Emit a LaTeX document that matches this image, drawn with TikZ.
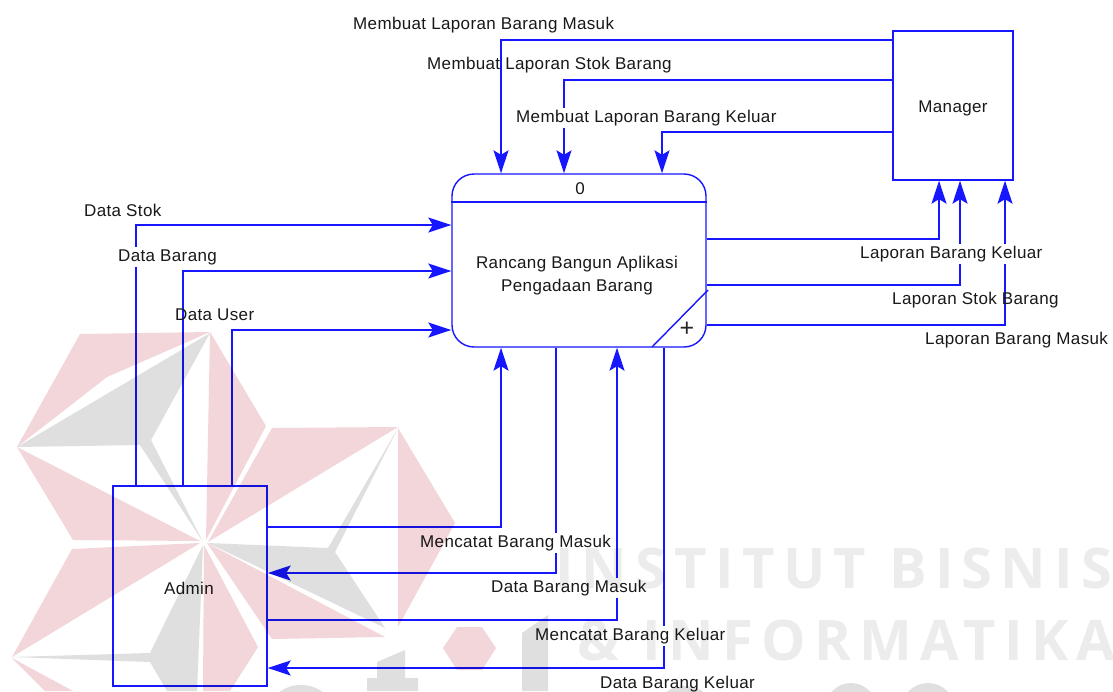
\documentclass[tikz,border=0pt]{standalone}
\usepackage{fontspec}
\setmainfont{Liberation Sans}[LetterSpace=2.1]
\newfontfamily\wmfont{Open Sans}[LetterSpace=14.8]
\usetikzlibrary{arrows.meta,calc}
\definecolor{flowblue}{RGB}{22,22,255}
\definecolor{wmred}{RGB}{243,214,217}
\definecolor{wmgray}{RGB}{223,223,223}
\definecolor{wmtext}{RGB}{236,236,236}
\tikzset{
  boxnode/.style={draw=flowblue,line width=1.4pt,minimum width=#1,inner sep=0pt},
  flow/.style={draw=flowblue,line width=1.4pt,-{Stealth[length=23pt,width=15pt,inset=4.5pt]}},
  lbl/.style={font=\fontsize{17}{19}\selectfont,text=black!90,inner sep=0pt,anchor=west},
  lblmask/.style={lbl,fill=white,inner ysep=2pt},
  redp/.style={fill=wmred,draw=none},
  grayp/.style={fill=wmgray,draw=none},
  wmt/.style={font=\wmfont\bfseries\fontsize{56}{60}\selectfont,text=wmtext,inner sep=0pt,anchor=base west}
}
\begin{document}
\begin{tikzpicture}[x=1pt,y=-1pt]
\useasboundingbox (0,0) rectangle (1113,691);
\fill[white] (0,0) rectangle (1113,691);
% entities
\node[boxnode=120pt,minimum height=149pt] (manager) at (953,105.5) {};
\node[boxnode=154pt,minimum height=200pt] (admin) at (190,586) {};
\node[boxnode=254pt,minimum height=173pt,rounded corners=22pt] (proc) at (579,260.5) {};
\coordinate (divL) at (proc.west |- 0,202);
\coordinate (divR) at (proc.east |- 0,202);
\draw[flowblue,line width=1.4pt] (divL) -- (divR);
\coordinate (slashA) at (652,347);
\coordinate (slashB) at (708,290);
\draw[flowblue,line width=1.4pt] (slashA) -- (slashB);
\node[inner sep=0pt,font=\fontsize{25}{25}\selectfont,text=black!85] (plus) at (687,329) {+};
% flows
\draw[flow] (manager.west |- 0,40) -| (proc.north -| 501,0);
\draw[flow] (manager.west |- 0,80) -| (proc.north -| 564,0);
\draw[flow] (manager.west |- 0,132) -| (proc.north -| 662,0);
\draw[flow] (proc.east |- 0,239) -| (manager.south -| 939,0);
\draw[flow] (proc.east |- 0,285) -| (manager.south -| 960,0);
\draw[flow] (proc.east |- 0,325) -| (manager.south -| 1005,0);
\draw[flow] (admin.north -| 136,0) |- (proc.west |- 0,225);
\draw[flow] (admin.north -| 183,0) |- (proc.west |- 0,271);
\draw[flow] (admin.north -| 232,0) |- (proc.west |- 0,330);
\draw[flow] (admin.east |- 0,527) -| (proc.south -| 501,0);
\draw[flow] (proc.south -| 556,0) |- (admin.east |- 0,573);
\draw[flow] (admin.east |- 0,620) -| (proc.south -| 617,0);
\draw[flow] (proc.south -| 664,0) |- (admin.east |- 0,668);
% labels
\node[lbl,anchor=center] (t0) at (580,189) {0};
\node[lbl,anchor=center] (t1) at (577,264) {Rancang Bangun Aplikasi};
\node[lbl,anchor=center] (t2) at (577,287) {Pengadaan Barang};
\node[lbl,anchor=center] (t3) at (953,108) {Manager};
\node[lbl,anchor=center] (t4) at (189,588) {Admin};
\node[lbl] (l1) at (353,25) {Membuat Laporan Barang Masuk};
\node[lbl] (l2) at (427,65) {Membuat Laporan Stok Barang};
\node[lblmask] (l3) at (516,118) {Membuat Laporan Barang Keluar};
\node[lbl] (l4) at (84,210) {Data Stok};
\node[lblmask] (l5) at (118,257) {Data Barang};
\node[lbl] (l6) at (175,315) {Data User};
\node[lblmask] (l7) at (860,254) {Laporan Barang Keluar};
\node[lbl] (l8) at (892,300) {Laporan Stok Barang};
\node[lbl] (l9) at (925,340) {Laporan Barang Masuk};
\node[lblmask] (l10) at (420,543) {Mencatat Barang Masuk};
\node[lblmask] (l11) at (491,588) {Data Barang Masuk};
\node[lblmask] (l12) at (535,636) {Mencatat Barang Keluar};
\node[lbl] (l13) at (600,684) {Data Barang Keluar};
% watermark
\begin{scope}[blend mode=multiply]
\clip (0,0) rectangle (1113,691);
\fill[redp] (80,334)--(210,332)--(107,377)--(17,447)--cycle;
\fill[grayp] (210,333)--(17,447)--(140,445)--(203,542)--(151,440)--cycle;
\fill[redp] (210,332)--(266,426)--(206,540)--cycle;
\fill[redp] (17,447)--(73,540)--(200,541)--cycle;
\fill[redp] (272,428)--(398,427)--(208,542)--cycle;
\fill[grayp] (398,428)--(335,552)--(385,628)--(208,543)--(328,548)--cycle;
\fill[redp] (398,428)--(455,523)--(398,627)--cycle;
\fill[redp] (207,543)--(385,637)--(272,639)--cycle;
\fill[redp] (200,543)--(72,549)--(12,657)--cycle;
\fill[grayp] (12,657)--(150,653)--(203,545)--(197,691)--(167,691)--(150,662)--cycle;
\fill[redp] (12,658)--(73,691)--(45,691)--cycle;
\fill[redp] (204,545)--(258,647)--(230,691)--(203,691)--cycle;
\fill[redp] (457,627)--(482,627)--(496,648)--(482,670)--(457,670)--(443,648)--cycle;
\fill[wmgray] (377,662)--(405,650)--(405,678)--(418,678)--(418,691)--(367,691)--(367,678)--(377,678)--cycle;
\fill[wmgray] (522,633)--(548,615)--(548,691)--(522,691)--cycle;
\fill[wmgray] (301,708) ellipse (30 and 23);
\fill[wmgray] (685,710) ellipse (28 and 24);
\fill[wmgray] (851,710) ellipse (26 and 27);
\fill[wmgray] (928,710) ellipse (27 and 27);
\node[wmt] (w1) at (555,588) {INSTITUT BISNIS};
\node[wmt] (w2) at (577,660) {\& INFORMATIKA};
\end{scope}
\end{tikzpicture}
\end{document}
